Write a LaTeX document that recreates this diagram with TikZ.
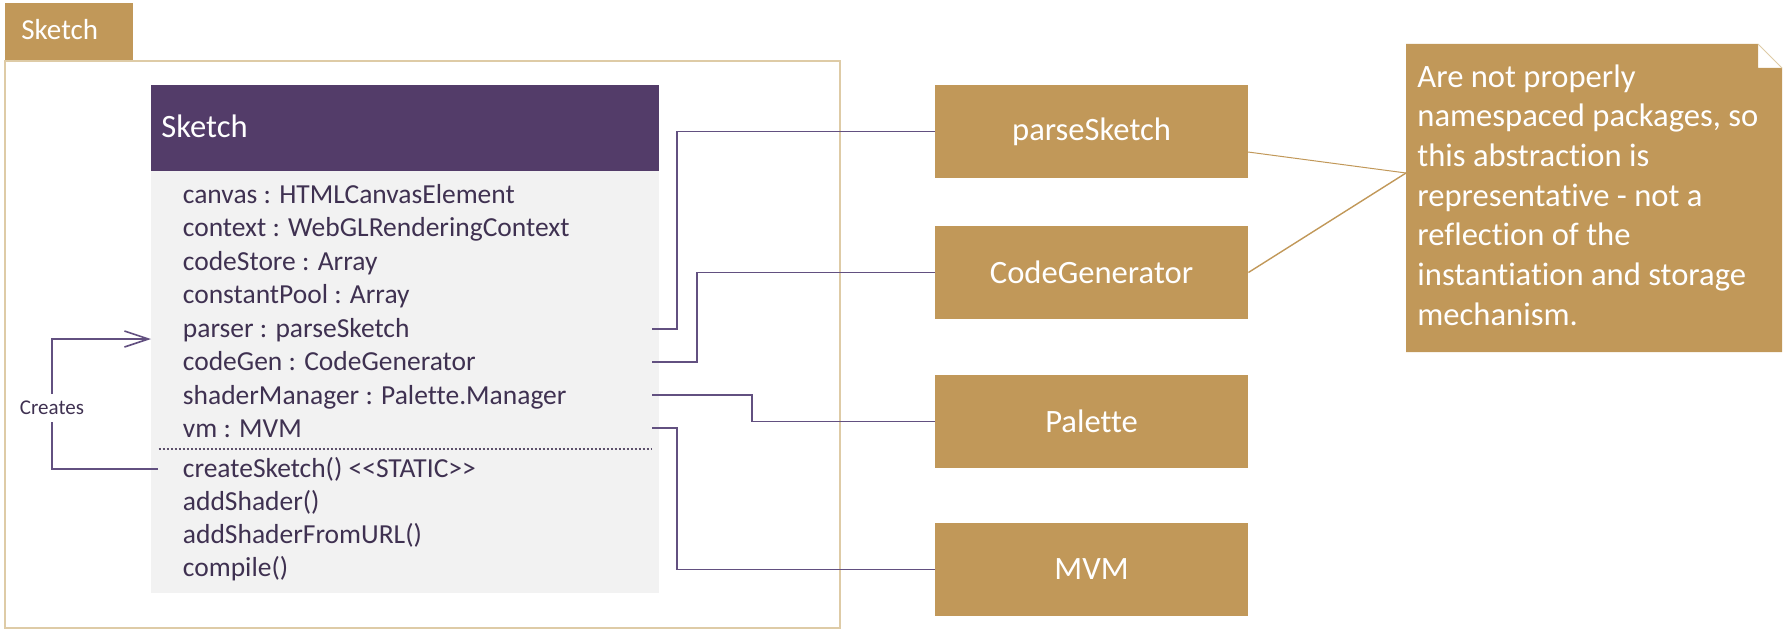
\documentclass[tikz,border=0pt]{standalone}
\usepackage{fontspec}
\setmainfont{Carlito}[Ligatures=NoCommon]
\usetikzlibrary{arrows.meta}

\definecolor{tanfill}{RGB}{193,152,89}
\definecolor{framecol}{RGB}{222,203,166}
\definecolor{headcol}{RGB}{83,60,105}
\definecolor{bodyfill}{RGB}{242,242,242}
\definecolor{textcol}{RGB}{63,49,81}
\definecolor{linkcol}{RGB}{98,80,128}

\begin{document}
\begin{tikzpicture}[x=0.5pt,y=-0.5pt,
		attr/.style={anchor=base west, inner sep=0pt, text=textcol, font=\fontsize{13.75}{16.5}\selectfont},
		pkg/.style={fill=tanfill, text=white, minimum width=156.5pt, minimum height=46.5pt, inner sep=0pt, font=\fontsize{16.3}{19.8}\selectfont},
		link/.style={draw=linkcol, line width=0.8pt},
		notelink/.style={draw=tanfill, line width=0.7pt}]
		\useasboundingbox (0,0) rectangle (1792,631);
		% package frame
		\fill[tanfill] (4.6,3) rectangle (133,60);
		\node[anchor=base west, inner sep=0pt, text=white, font=\fontsize{14.5}{17}\selectfont] (tab) at (21,40) {Sketch};
		\draw[framecol, line width=1pt] (4.6,61) rectangle (840,628);
		% class
		\fill[headcol] (151,85) rectangle (659,171);
		\fill[bodyfill] (151,171) rectangle (659,593);
		\node[anchor=base west, inner sep=0pt, text=white, font=\fontsize{16.3}{19.8}\selectfont] (cls) at (161,138) {Sketch};
		\node[attr] (canvas) at (182.5,203) {canvas : HTMLCanvasElement};
		\node[attr] (context) at (182.5,236.5) {context : WebGLRenderingContext};
		\node[attr] (store) at (182.5,270) {codeStore : Array};
		\node[attr] (pool) at (182.5,303.5) {constantPool : Array};
		\node[attr] (parser) at (182.5,337) {parser : parseSketch};
		\node[attr] (codegen) at (182.5,370.5) {codeGen : CodeGenerator};
		\node[attr] (shader) at (182.5,404) {shaderManager : Palette.Manager};
		\node[attr] (vm) at (182.5,437.5) {vm : MVM};
		\draw[textcol!85, line width=0.8pt, dash pattern=on 1pt off 1pt] (158.5,449) -- (652,449);
		\node[attr] (create) at (182.5,477) {createSketch() <{}<STATIC>{}>};
		\node[attr] (add) at (182.5,510) {addShader()};
		\node[attr] (addurl) at (182.5,543.3) {addShaderFromURL()};
		\node[attr] (compile) at (182.5,576.6) {compile()};
		% packages
		\node[pkg] (psk) at (1091.5,131.5) {parseSketch};
		\node[pkg] (cg) at (1091.5,272.5) {CodeGenerator};
		\node[pkg] (pal) at (1091.5,421.5) {Palette};
		\node[pkg] (mvm) at (1091.5,569.5) {MVM};
		% links
		\coordinate (parser-out) at (652,329);
		\coordinate (codegen-out) at (652,362);
		\coordinate (shader-out) at (652,395);
		\coordinate (vm-out) at (652,428);
		\draw[link] (parser-out) -- (677,329) |- (psk);
		\draw[link] (codegen-out) -- (697,362) |- (cg);
		\draw[link] (shader-out) -- (752,395) |- (pal);
		\draw[link] (vm-out) -- (677,428) |- (mvm);
		% creates
		\coordinate (create-out) at (158,469);
		\coordinate (class-in) at (151,339);
		\node[text=textcol, font=\fontsize{10.5}{12}\selectfont] (creates) at (52,408) {Creates};
		\draw[link] (create-out) -| (creates.south);
		\draw[link, -{Straight Barb[length=12pt,width=8pt]}] (creates.north) |- (class-in);
		% note
		\fill[tanfill] (1406,44) -- (1758,44) -- (1758,68) -- (1782,68) -- (1782,352) -- (1406,352) -- cycle;
		\draw[framecol, line width=0.4pt] (1758,44) -- (1782,68);
		\node[anchor=north west, inner sep=0pt, text=white, align=left, font=\fontsize{16.3}{19.85}\selectfont] (note) at (1417,64) {Are not properly\\namespaced packages, so\\this abstraction is\\representative - not a\\reflection of the\\instantiation and storage\\mechanism.};
		\coordinate (note-in) at (1406,173);
		\coordinate (psk-out) at (1248,152);
		\draw[notelink, line width=0.5pt] (psk-out) -- (note-in);
		\draw[notelink] (cg.east) -- (note-in);
	\end{tikzpicture}
\end{document}
